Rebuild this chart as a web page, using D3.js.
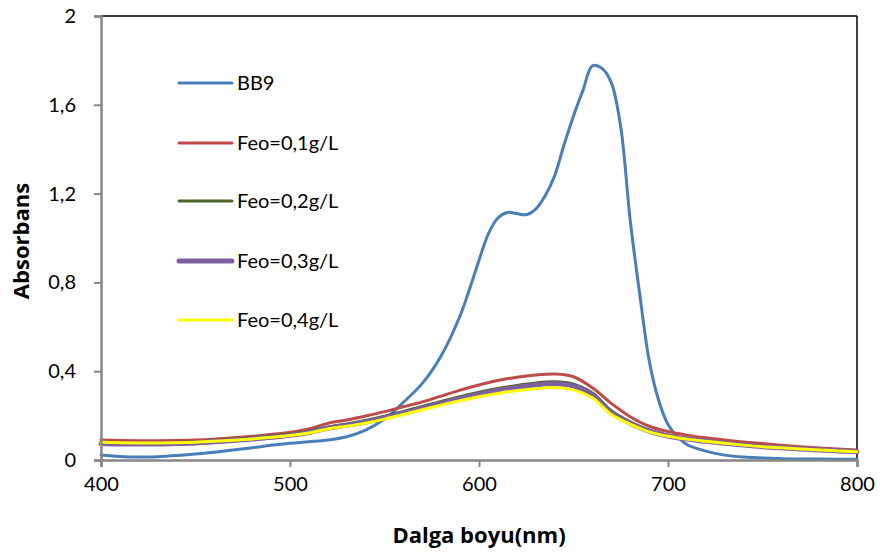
<!DOCTYPE html>
<html>
<head>
<meta charset="utf-8">
<script src="https://cdn.jsdelivr.net/npm/d3@7"></script>
<style>
  html, body { margin: 0; padding: 0; background: #fff; }
  svg { display: block; }
  text { font-family: Lato, "Open Sans", sans-serif; fill: #000; }
</style>
</head>
<body>
<svg id="chart" width="882" height="556"></svg>
<script>
// ---- data ----
const bb9Wavelength = [400,410,420,430,440,450,460,470,480,490,500,510,520,530,540,550,560,570,580,590,595,600,605,610,615,620,625,630,635,640,645,650,655,660,665,670,675,680,685,690,695,700,705,710,720,730,740,750,760,780,800];
const bb9Values = [0.023,0.016,0.013,0.015,0.02,0.027,0.035,0.045,0.055,0.066,0.075,0.082,0.09,0.105,0.135,0.185,0.26,0.345,0.47,0.65,0.77,0.9,1.02,1.09,1.115,1.11,1.105,1.13,1.19,1.28,1.42,1.55,1.665,1.775,1.765,1.7,1.5,1.08,0.75,0.45,0.27,0.16,0.105,0.07,0.04,0.022,0.013,0.009,0.006,0.004,0.003];

const feoWavelength = [400,410,420,430,440,450,460,470,480,490,500,510,520,530,540,550,560,570,580,590,600,610,620,630,640,650,660,670,680,690,700,710,720,730,740,750,760,770,780,790,800];
const feo01 = [0.09,0.088,0.087,0.087,0.088,0.09,0.094,0.1,0.107,0.115,0.125,0.14,0.165,0.18,0.198,0.218,0.24,0.262,0.288,0.315,0.338,0.358,0.373,0.383,0.387,0.375,0.325,0.255,0.195,0.152,0.128,0.112,0.1,0.09,0.081,0.074,0.067,0.06,0.054,0.049,0.045];
const feo02 = [0.079,0.077,0.076,0.077,0.079,0.082,0.087,0.093,0.1,0.108,0.117,0.13,0.149,0.162,0.178,0.197,0.219,0.241,0.264,0.285,0.305,0.322,0.336,0.347,0.352,0.342,0.302,0.222,0.172,0.134,0.112,0.098,0.087,0.078,0.07,0.063,0.057,0.052,0.047,0.043,0.039];
const feo03 = [0.074,0.072,0.072,0.072,0.074,0.077,0.082,0.088,0.094,0.102,0.111,0.124,0.143,0.156,0.171,0.19,0.211,0.233,0.255,0.276,0.296,0.313,0.327,0.338,0.343,0.333,0.293,0.213,0.166,0.13,0.108,0.094,0.084,0.075,0.067,0.06,0.055,0.05,0.045,0.041,0.037];
const feo04 = [0.08,0.078,0.077,0.077,0.078,0.08,0.084,0.089,0.095,0.102,0.11,0.122,0.14,0.152,0.166,0.184,0.205,0.226,0.247,0.267,0.285,0.3,0.312,0.321,0.326,0.316,0.28,0.205,0.162,0.127,0.107,0.094,0.084,0.075,0.067,0.06,0.055,0.05,0.045,0.041,0.037];

const seriesNames = ["BB9","Feo=0,1g/L","Feo=0,2g/L","Feo=0,3g/L","Feo=0,4g/L"];
const seriesColors = ["#4A7EBB","#BE4B48","#4F6228","#7D60A0","#FFFF00"];
const seriesWidths = [3,3,3,5,3];

const xTicks = [400,500,600,700,800];
const yTicks = [0,0.4,0.8,1.2,1.6,2];
const xTitle = "Dalga boyu(nm)";
const yTitle = "Absorbans";

// ---- layout ----
const svg = d3.select("#chart");
const mLeft = 101, mRight = 857, mTop = 16, mBottom = 460;
const x = d3.scaleLinear().domain([400,800]).range([mLeft,mRight]);
const y = d3.scaleLinear().domain([0,2]).range([mBottom,mTop]);
const fmt = d => String(+d.toFixed(1)).replace(".", ",");

// frame top/right black
svg.append("line").attr("x1",mLeft).attr("x2",mRight).attr("y1",mTop).attr("y2",mTop)
  .attr("stroke","#000").attr("stroke-width",1.5);
svg.append("line").attr("x1",mRight).attr("x2",mRight).attr("y1",mTop).attr("y2",mBottom)
  .attr("stroke","#000").attr("stroke-width",1.5);

// lines
const line = d3.line().x(d => x(d[0])).y(d => y(d[1])).curve(d3.curveCatmullRom.alpha(0.5));
const allSeries = [
  d3.zip(bb9Wavelength, bb9Values),
  d3.zip(feoWavelength, feo01),
  d3.zip(feoWavelength, feo02),
  d3.zip(feoWavelength, feo03),
  d3.zip(feoWavelength, feo04)
];
svg.append("g").selectAll("path").data(allSeries).join("path")
  .attr("d", line)
  .attr("fill","none")
  .attr("stroke",(d,i) => seriesColors[i])
  .attr("stroke-width",(d,i) => seriesWidths[i])
  .attr("stroke-linejoin","round").attr("stroke-linecap","round");

// axes
const xAxis = svg.append("g").attr("transform",`translate(0,${mBottom})`)
  .call(d3.axisBottom(x).tickValues(xTicks).tickSize(7).tickPadding(10).tickFormat(d3.format("d")));
const yAxis = svg.append("g").attr("transform",`translate(${mLeft},0)`)
  .call(d3.axisLeft(y).tickValues(yTicks).tickSize(7).tickPadding(18).tickFormat(fmt));
[xAxis,yAxis].forEach(g => {
  g.select(".domain").attr("stroke","#868686").attr("stroke-width",2.5);
  g.selectAll(".tick line").attr("stroke","#868686").attr("stroke-width",2);
  g.selectAll(".tick text").style("font-size","20px").style("font-family","Lato, sans-serif").attr("fill","#000");
});

// legend
const legendY = [83,143,201,261,320];
const lg = svg.append("g").selectAll("g").data(seriesNames).join("g")
  .attr("transform",(d,i) => `translate(179,${legendY[i]})`);
lg.append("line").attr("x1",0).attr("x2",53).attr("y1",0).attr("y2",0)
  .attr("stroke",(d,i) => seriesColors[i])
  .attr("stroke-width",(d,i) => seriesWidths[i])
  .attr("stroke-linecap","round");
lg.append("text").attr("x",58).attr("y",7).style("font-size","20px").text(d => d);

// titles
svg.append("text").attr("x",479).attr("y",543).attr("text-anchor","middle")
  .style("font-family","'Open Sans', sans-serif")
  .style("font-size","22px").style("font-weight","bold").text(xTitle);
svg.append("text").attr("transform","translate(29,241) rotate(-90)").attr("text-anchor","middle")
  .style("font-family","'Open Sans', sans-serif")
  .style("font-size","22px").style("font-weight","bold").text(yTitle);
</script>
</body>
</html>
